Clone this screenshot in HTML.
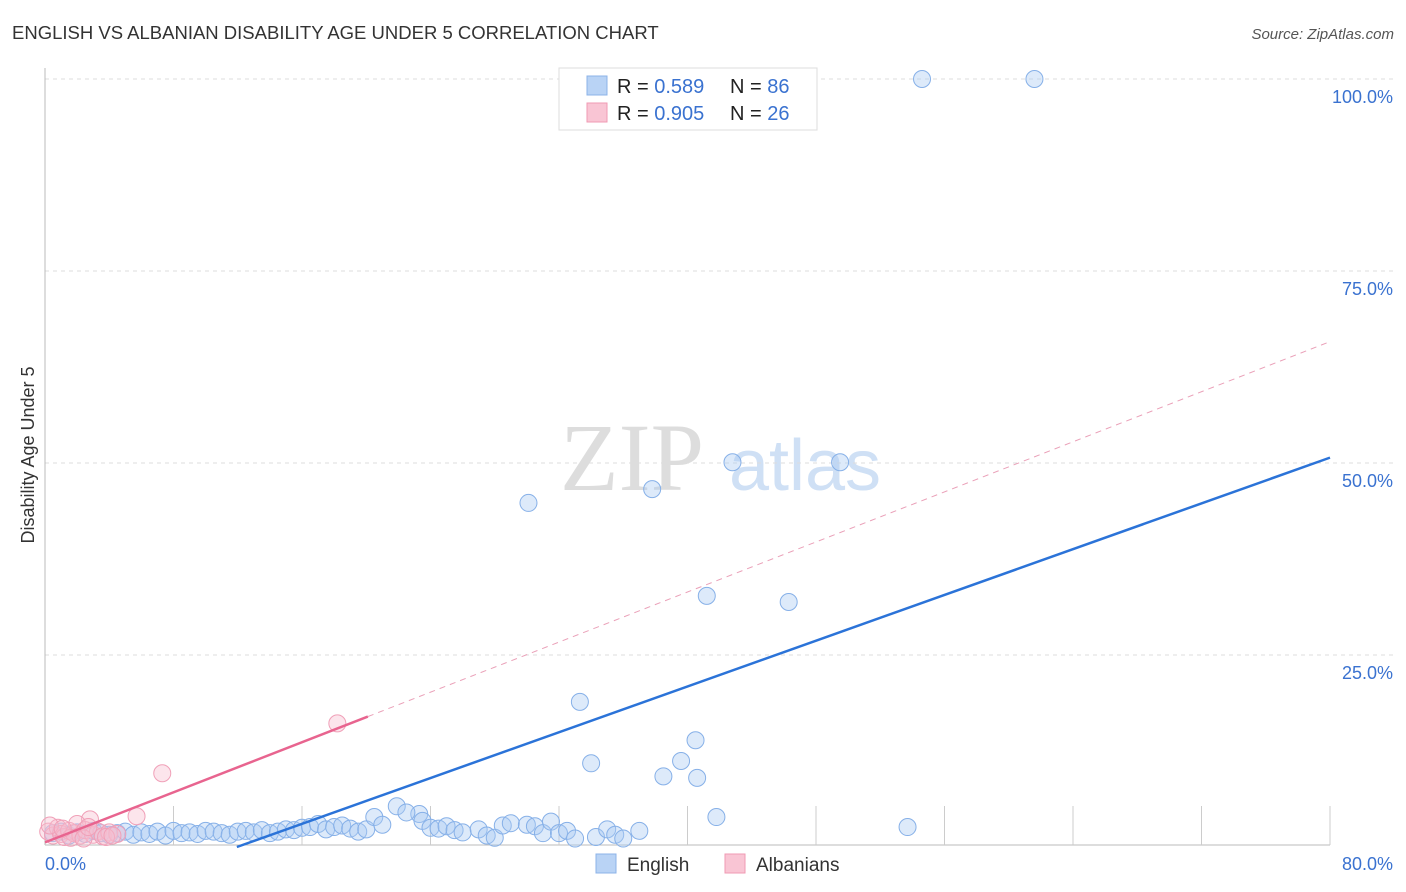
<!DOCTYPE html>
<html><head><meta charset="utf-8"><style>
body{margin:0;background:#fff;font-family:"Liberation Sans",sans-serif;}
#wrap{position:relative;width:1406px;height:892px;overflow:hidden;}
</style></head><body>
<div id="wrap">
<svg id="svg" width="1406" height="892">
<text x="12" y="39" font-size="18.5" fill="#333">ENGLISH VS ALBANIAN DISABILITY AGE UNDER 5 CORRELATION CHART</text>
<text x="1394" y="39" font-size="15" fill="#555" font-style="italic" text-anchor="end">Source: ZipAtlas.com</text>
<text x="632" y="490" font-size="96" fill="#ddd" font-family="Liberation Serif" text-anchor="middle">ZIP</text>
<text x="805" y="490" font-size="72" fill="#cfe0f5" text-anchor="middle">atlas</text>
<text transform="translate(34,455) rotate(-90)" font-size="18" fill="#333" text-anchor="middle">Disability Age Under 5</text>
<g id="grid"></g><g id="marks"></g>
<g>
<rect x="559" y="68" width="258" height="62" fill="#fff" stroke="#ddd"/>
<rect x="587" y="76" width="20" height="19" fill="#b9d3f5" stroke="#8cb3e8"/>
<rect x="587" y="103" width="20" height="19" fill="#f9c5d4" stroke="#f09ab3"/>
<text x="617" y="93" font-size="20" fill="#222">R = <tspan fill="#3a72d0">0.589</tspan></text>
<text x="730" y="93" font-size="20" fill="#222">N = <tspan fill="#3a72d0">86</tspan></text>
<text x="617" y="120" font-size="20" fill="#222">R = <tspan fill="#3a72d0">0.905</tspan></text>
<text x="730" y="120" font-size="20" fill="#222">N = <tspan fill="#3a72d0">26</tspan></text>
</g>
<g>
<rect x="596" y="854" width="20" height="19" fill="#b9d3f5" stroke="#8cb3e8"/>
<text x="627" y="871" font-size="19" fill="#333">English</text>
<rect x="725" y="854" width="20" height="19" fill="#f9c5d4" stroke="#f09ab3"/>
<text x="756" y="871" font-size="19" fill="#333">Albanians</text>
</g>
</svg>
</div>
<script>
const engX=[54.6,61.6,42.8,49.5,30.1,37.8,41.2,46.3,33.3,40.5,34.0,39.6,38.5,40.6,41.8,53.7,23.3,21.9,
0.5,1,1.5,2,2.5,3,3.5,4,4.5,5,5.5,6,6.5,7,7.5,8,8.5,9,9.5,10,10.5,11,11.5,12,12.5,13,13.5,14,14.5,15,15.5,16,16.5,17,17.5,18,18.5,19,19.5,20,20.5,21,22.5,23.5,24,24.5,25,25.5,26,27,27.5,28,28.5,29,30,30.5,31,31.5,32,32.5,33,34.3,35,35.5,36,37],
engY=[100,100,50.1,50.1,44.8,46.6,32.7,31.9,18.9,13.9,10.9,11.2,9.2,9.0,3.9,2.6,4.3,5.3,
1.8,2,1.5,1.9,1.7,2.1,1.8,1.6,1.8,2,1.6,1.9,1.7,2,1.5,2.1,1.8,1.9,1.7,2.1,2,1.8,1.6,2,2.1,1.9,2.2,1.8,2,2.3,2.2,2.5,2.6,3.0,2.3,2.6,2.8,2.4,2.0,2.3,3.9,2.9,4.5,3.4,2.5,2.4,2.7,2.2,1.9,2.3,1.5,1.2,2.8,3.1,2.9,2.7,1.8,3.3,1.8,2.1,1.1,1.3,2.3,1.6,1.1,2.1,0.8,1.0,2.0];
const albX=[18.2,7.3,5.7,2.8,0.2,0.5,0.8,1.0,1.2,1.5,1.8,2.0,2.2,2.5,3.0,3.3,3.6,4.0,4.5,1.6,2.4,0.3,3.8,1.1,2.7,4.2],
albY=[16.1,9.6,4.0,3.6,2.0,1.5,2.5,1.7,1.3,2.1,1.8,3.0,1.5,2.2,1.6,2.0,1.4,1.9,1.7,1.2,1.1,2.8,1.3,2.4,2.6,1.5];
const engLine=[0.745,-8.9], albLine=[0.815,0.6];
const yTicks=[25,50,75,100], xTickVals=[0,80];
const X=v=>45+v/80*1285, Y=v=>847-v/100*768;
const ns="http://www.w3.org/2000/svg";
function mk(t,a,p){const e=document.createElementNS(ns,t);for(const k in a)e.setAttribute(k,a[k]);p.appendChild(e);return e;}
const g=document.getElementById('grid'), m=document.getElementById('marks');
yTicks.forEach(v=>{
const l=mk('line',{x1:45,x2:1394,y1:Y(v),y2:Y(v),stroke:'#ddd','stroke-dasharray':'4,4'},g);


const t=mk('text',{x:1393,y:Y(v)+24,'font-size':18,fill:'#3a72d0','text-anchor':'end'},g);t.textContent=v.toFixed(1)+'%';


});
mk('line',{x1:45,x2:45,y1:68,y2:845,stroke:'#bbb'},g);
mk('line',{x1:45,x2:1330,y1:845,y2:845,stroke:'#bbb'},g);
for(let i=1;i<=10;i++){mk('line',{x1:X(i*8),x2:X(i*8),y1:806,y2:845,stroke:'#ccc'},g);}
xTickVals.forEach((v,i)=>{const t=mk('text',{x:i?1393:45,y:870,'font-size':18,fill:'#3a72d0','text-anchor':i?'end':'start'},g);t.textContent=v.toFixed(1)+'%';

});
engX.forEach((x,i)=>{const c=mk('circle',{cx:X(x),cy:Y(engY[i]),r:8.5,fill:'rgba(170,202,242,0.4)',stroke:'#86b0e8','stroke-width':1},m);

});
albX.forEach((x,i)=>{const c=mk('circle',{cx:X(x),cy:Y(albY[i]),r:8.5,fill:'rgba(248,190,208,0.4)',stroke:'#f0a0b8','stroke-width':1},m);

});
const x0=-engLine[1]/engLine[0];
const bl=mk('line',{x1:X(x0),y1:Y(0),x2:X(80),y2:Y(engLine[0]*80+engLine[1]),stroke:'#2b73d8','stroke-width':2.5},m);


const pl=mk('line',{x1:X(0),y1:Y(albLine[1]),x2:X(20.1),y2:Y(albLine[0]*20.1+albLine[1]),stroke:'#e8648f','stroke-width':2.5},m);


const pd=mk('line',{x1:X(20.1),y1:Y(albLine[0]*20.1+albLine[1]),x2:X(80),y2:Y(albLine[0]*80+albLine[1]),stroke:'#eaa0b8','stroke-width':1,'stroke-dasharray':'6,5'},m);


</script>
</body></html>
